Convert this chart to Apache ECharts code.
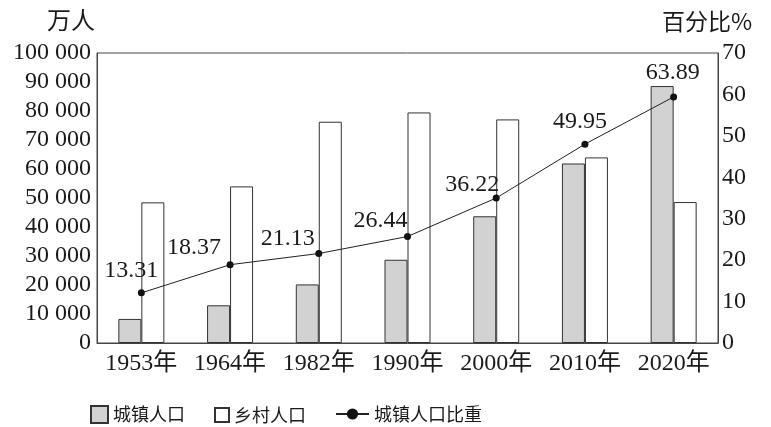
<!DOCTYPE html>
<html>
<head>
<meta charset="utf-8">
<script src="https://cdn.jsdelivr.net/npm/echarts@6/dist/echarts.min.js"></script>
<style>html,body{margin:0;padding:0;background:#fff}#c{width:771px;height:427px}</style>
</head>
<body>
<div id="c"></div>
<script>
const categories = ['1953年', '1964年', '1982年', '1990年', '2000年', '2010年', '2020年'];
const urbanPop = [8300, 13000, 20200, 28700, 43700, 61900, 88600];
const ruralPop = [48500, 54000, 76300, 79500, 77100, 64000, 48600];
const urbanRatioPlotted = [12.1, 18.9, 21.6, 25.7, 35.0, 48.0, 59.4];
const urbanRatioLabels = ['13.31', '18.37', '21.13', '26.44', '36.22', '49.95', '63.89'];
const leftTicks = { min: 0, max: 100000, interval: 10000 };
const rightTicks = { min: 0, max: 70, interval: 10 };

const labelOffsets = [[-10, -22], [-36, -17], [-31, -15], [-27, -16], [-24, -13], [-5, -22], [-1, -24]];
const serif = "'Liberation Serif', 'Noto Sans CJK SC', serif";
const cjk = "'Noto Sans CJK SC', 'Liberation Serif', serif";
const ink = '#1a1a1a';

const chart = echarts.init(document.getElementById('c'), null, { renderer: 'canvas' });
chart.setOption({
  animation: false,
  backgroundColor: '#fff',
  title: [
    { text: '万人', left: 42, top: 3, textStyle: { fontFamily: cjk, fontSize: 24, fontWeight: 'normal', color: ink } },
    { text: '百分比%', left: 657, top: 5, textStyle: { fontFamily: cjk, fontSize: 23, fontWeight: 'normal', color: ink } }
  ],
  grid: { left: 97, right: 53, top: 53, bottom: 84, show: true, borderColor: '#444', borderWidth: 1, backgroundColor: 'transparent' },
  legend: [
    { data: [{ name: '城镇人口', icon: 'rect' }], left: 85, top: 400, itemWidth: 17, itemHeight: 17, itemGap: 5,
      textStyle: { fontFamily: cjk, fontSize: 18, color: ink } },
    { data: [{ name: '乡村人口', icon: 'rect' }], left: 209, top: 401, itemWidth: 14, itemHeight: 14, itemGap: 5,
      textStyle: { fontFamily: cjk, fontSize: 18, color: ink } },
    { data: ['城镇人口比重'], left: 330, top: 400, itemWidth: 33, itemHeight: 14, itemGap: 5,
      textStyle: { fontFamily: cjk, fontSize: 18, color: ink } }
  ],
  xAxis: {
    type: 'category',
    data: categories,
    axisLine: { show: true, lineStyle: { color: '#444', width: 1 } },
    axisTick: { show: false },
    axisLabel: { fontFamily: serif, fontSize: 24, color: ink, margin: 9, interval: 0 }
  },
  yAxis: [
    {
      type: 'value', min: leftTicks.min, max: leftTicks.max, interval: leftTicks.interval,
      axisLine: { show: true, lineStyle: { color: '#444', width: 1 } },
      axisTick: { show: false },
      splitLine: { show: false },
      axisLabel: {
        fontFamily: serif, fontSize: 24, color: ink, margin: 6,
        formatter: v => String(v).replace(/\B(?=(\d{3})+(?!\d))/g, ' ')
      }
    },
    {
      type: 'value', min: rightTicks.min, max: rightTicks.max, interval: rightTicks.interval,
      position: 'right',
      axisLine: { show: true, lineStyle: { color: '#444', width: 1 } },
      axisTick: { show: false },
      splitLine: { show: false },
      axisLabel: { fontFamily: serif, fontSize: 24, color: ink, margin: 4 }
    }
  ],
  series: [
    {
      name: '城镇人口', type: 'bar', data: urbanPop, barWidth: 23, barGap: '0%',
      itemStyle: { color: '#d2d2d2', borderColor: '#333', borderWidth: 1 }
    },
    {
      name: '乡村人口', type: 'bar', data: ruralPop, barWidth: 23, barGap: '0%',
      itemStyle: { color: '#ffffff', borderColor: '#333', borderWidth: 1 }
    },
    {
      name: '城镇人口比重', type: 'line', yAxisIndex: 1, z: 5,
      data: urbanRatioPlotted.map((v, i) => ({ value: v, label: { offset: labelOffsets[i] } })),
      symbol: 'circle', symbolSize: 7,
      itemStyle: { color: '#111' },
      lineStyle: { color: '#222', width: 1 },
      label: {
        show: true, position: 'inside', fontFamily: serif, fontSize: 24, color: ink,
        formatter: p => urbanRatioLabels[p.dataIndex]
      }
    }
  ]
});
</script>
</body>
</html>
